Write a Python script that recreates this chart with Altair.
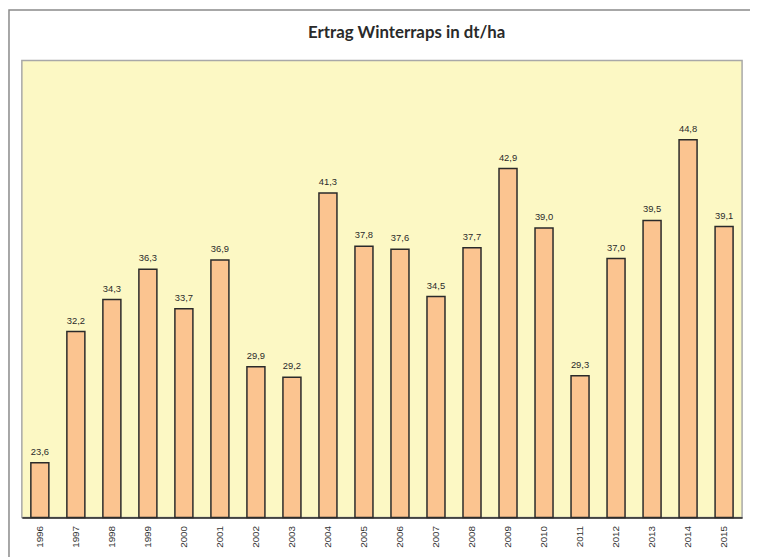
import altair as alt
import pandas as pd

years = [str(y) for y in range(1996, 2016)]
ertrag = [23.6, 32.2, 34.3, 36.3, 33.7, 36.9, 29.9, 29.2, 41.3, 37.8,
          37.6, 34.5, 37.7, 42.9, 39.0, 29.3, 37.0, 39.5, 44.8, 39.1]
title_text = "Ertrag Winterraps in dt/ha"

df = pd.DataFrame({"Jahr": years, "Ertrag": ertrag})
df["Label"] = [f"{v:.1f}".replace(".", ",") for v in ertrag]
title_df = pd.DataFrame({"t": [title_text]})

x_enc = alt.X("Jahr:N", sort=years, title=None,
              scale=alt.Scale(paddingInner=0.5, paddingOuter=0.25),
              axis=alt.Axis(labelAngle=-90, ticks=False, labelPadding=8,
                            labelFont="Liberation Sans", labelFontSize=10,
                            labelColor="#333333", domainColor="#222222",
                            domainWidth=1.5))
y_enc = alt.Y("Ertrag:Q", title=None,
              scale=alt.Scale(domain=[20, 50], nice=False, zero=False),
              axis=None)

frame = alt.Chart(title_df).mark_rect(fill=None, stroke="#8a8a8a", strokeWidth=1.5).encode(
    x=alt.value(-13), x2=alt.value(900), y=alt.value(-51), y2=alt.value(700)
)

title = alt.Chart(title_df).mark_text(
    font="Lato", fontSize=17, fontWeight="bold", color="#2a2a2a",
    align="center", baseline="alphabetic"
).encode(x=alt.value(389), y=alt.value(-23), text="t:N")

bars = alt.Chart(df).mark_bar(color="#FBC490", stroke="#2a2a2a", strokeWidth=1.5).encode(
    x=x_enc, y=y_enc, y2=alt.datum(20)
)

labels = alt.Chart(df).mark_text(
    baseline="alphabetic", dy=-8, font="Liberation Sans", fontSize=9.5, color="#2a2a2a"
).encode(x=alt.X("Jahr:N", sort=years), y=alt.Y("Ertrag:Q"), text="Label:N")

chart = alt.layer(frame, title, bars, labels).properties(
    width=728, height=462,
    padding={"left": 14, "top": 50, "right": 8, "bottom": 40},
    autosize=alt.AutoSizeParams(type="none"),
).configure_view(
    fill="#FCF8C4", stroke="#A8A8A8", strokeWidth=1.5
)

chart.save("out.html", embed_options={"renderer": "svg", "actions": False})
